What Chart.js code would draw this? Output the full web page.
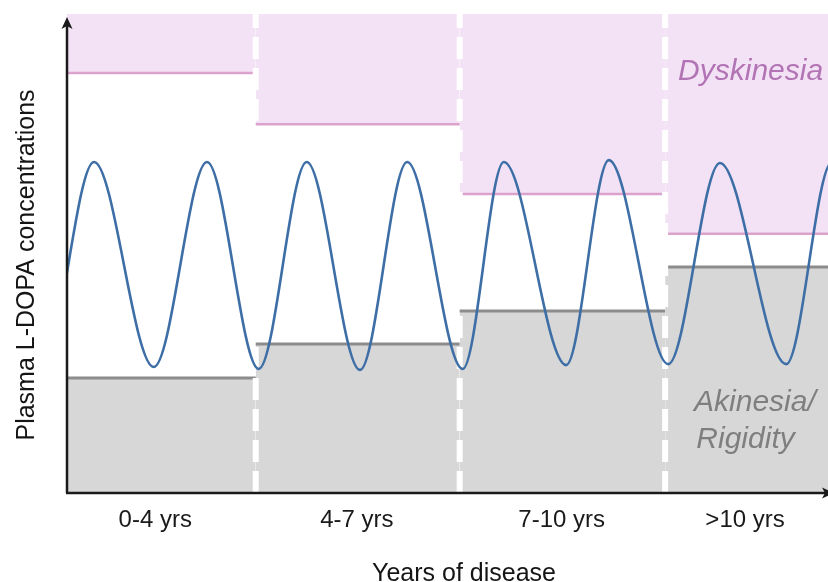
<!DOCTYPE html>
<html>
<head>
<meta charset="utf-8">
<script src="https://cdn.jsdelivr.net/npm/chart.js@4.4.1/dist/chart.umd.min.js"></script>
<style>
  html, body { margin: 0; padding: 0; background: #fff; }
  #wrap { width: 828px; height: 582px; }
</style>
</head>
<body>
<div id="wrap"><canvas id="chart"></canvas></div>
<script>
// x: position along the disease course (0..100 across the plot), y: concentration (0..100)
const periodLabels = ['0-4 yrs', '4-7 yrs', '7-10 yrs', '>10 yrs'];
const labelPos = [11.6, 38.1, 65.0, 89.1];
const periodBounds = [0, 24.8, 51.6, 78.6, 100];
const dyskinesiaThreshold = [87.7, 77.0, 62.4, 54.1];
const akinesiaThreshold = [24.0, 31.1, 38.0, 47.2];
const separators = [24.8, 51.6, 78.6];
const levodopaX = [-10.0, -3.2, 3.55, 11.4, 18.4, 25.2, 31.5, 38.5, 44.7, 52.0, 57.4, 65.6, 71.2, 79.0, 85.8, 94.5, 100.5, 107.0];
const levodopaY = [69.1, 26.3, 69.1, 26.3, 69.1, 25.9, 69.1, 25.7, 69.1, 25.9, 69.1, 26.7, 69.5, 26.9, 68.9, 26.9, 69.0, 26.9];

const FONT = "'Liberation Sans', Arial, sans-serif";

const datasets = [];

datasets.push({
    data: levodopaX.map((x, i) => ({ x, y: levodopaY[i] })),
    borderColor: '#3d6ea6',
    borderWidth: 2.6,
    pointRadius: 0,
    cubicInterpolationMode: 'monotone',
    fill: false,
    order: 0,
});

separators.forEach(x => {
    datasets.push({
        data: [{ x, y: 0 }, { x, y: 100 }],
        borderColor: '#ffffff',
        borderWidth: 6,
        borderDash: [22, 9],
        pointRadius: 0,
        fill: false,
        order: 1,
    });
});

dyskinesiaThreshold.forEach((y, i) => {
    datasets.push({
        data: [{ x: periodBounds[i], y }, { x: periodBounds[i + 1], y }],
        borderColor: '#dba3cb',
        backgroundColor: '#f3e2f5',
        borderWidth: 2.5,
        pointRadius: 0,
        fill: 'end',
        order: 2,
    });
});

akinesiaThreshold.forEach((y, i) => {
    datasets.push({
        data: [{ x: periodBounds[i], y }, { x: periodBounds[i + 1], y }],
        borderColor: '#8c8c8c',
        backgroundColor: '#d7d7d7',
        borderWidth: 3,
        pointRadius: 0,
        fill: 'start',
        order: 2,
    });
});

const decorations = {
    id: 'decorations',
    afterDatasetsDraw(chart) {
        const { ctx, chartArea: a, scales: { x, y } } = chart;
        ctx.save();

        // axes with arrowheads
        ctx.strokeStyle = '#1a1a1a';
        ctx.fillStyle = '#1a1a1a';
        ctx.lineWidth = 2.5;
        ctx.beginPath();
        ctx.moveTo(a.left, a.bottom);
        ctx.lineTo(a.left, a.top + 8);
        ctx.moveTo(a.left - 1, a.bottom);
        ctx.lineTo(a.right, a.bottom);
        ctx.stroke();
        ctx.beginPath();
        ctx.moveTo(a.left, a.top + 3);
        ctx.lineTo(a.left - 5.5, a.top + 15);
        ctx.lineTo(a.left, a.top + 12);
        ctx.lineTo(a.left + 5.5, a.top + 15);
        ctx.closePath();
        ctx.fill();
        ctx.beginPath();
        ctx.moveTo(a.right + 6, a.bottom);
        ctx.lineTo(a.right - 6, a.bottom - 5.5);
        ctx.lineTo(a.right - 3, a.bottom);
        ctx.lineTo(a.right - 6, a.bottom + 5.5);
        ctx.closePath();
        ctx.fill();

        // region labels
        ctx.textBaseline = 'middle';
        ctx.textAlign = 'left';
        ctx.font = 'italic 30px ' + FONT;
        ctx.fillStyle = '#b274b4';
        ctx.fillText('Dyskinesia', x.getPixelForValue(80.3), y.getPixelForValue(87.9));
        ctx.fillStyle = '#7f7f7f';
        ctx.fillText('Akinesia/', x.getPixelForValue(82.4), y.getPixelForValue(18.8));
        ctx.fillText('Rigidity', x.getPixelForValue(82.7), y.getPixelForValue(11.1));

        // axis titles
        ctx.fillStyle = '#151515';
        ctx.font = '25px ' + FONT;
        ctx.textAlign = 'center';
        ctx.textBaseline = 'alphabetic';
        ctx.fillText('Years of disease', 464, 581);
        ctx.textBaseline = 'middle';
        ctx.translate(27, 265);
        ctx.rotate(-Math.PI / 2);
        ctx.fillText('Plasma L-DOPA concentrations', 0, 0);
        ctx.restore();
    }
};

new Chart(document.getElementById('chart'), {
    type: 'line',
    data: { datasets },
    options: {
        responsive: true,
        maintainAspectRatio: false,
        animation: false,
        layout: { padding: { top: 14, right: 0, left: 0, bottom: 0 } },
        plugins: { legend: { display: false }, tooltip: { enabled: false } },
        scales: {
            x: {
                type: 'linear',
                min: 0,
                max: 100,
                grid: { display: false, drawTicks: false },
                border: { display: false },
                afterBuildTicks: s => { s.ticks = labelPos.map(value => ({ value })); },
                afterFit: s => { s.height = 89; },
                ticks: {
                    autoSkip: false,
                    maxRotation: 0,
                    padding: 13,
                    color: '#1a1a1a',
                    font: { family: FONT, size: 24 },
                    callback: (v, i) => periodLabels[i],
                },
            },
            y: {
                min: 0,
                max: 100,
                grid: { display: false, drawTicks: false },
                border: { display: false },
                ticks: { display: false },
                afterFit: s => { s.width = 67; },
            },
        },
    },
    plugins: [decorations],
});
</script>
</body>
</html>
